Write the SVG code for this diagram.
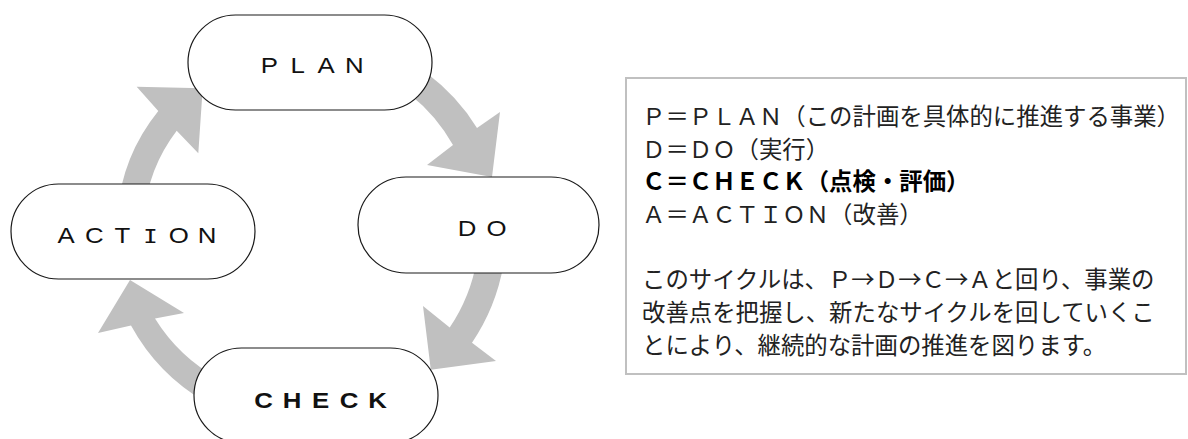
<svg xmlns="http://www.w3.org/2000/svg" width="1188" height="439" viewBox="0 0 1188 439">
<style>
.node rect{fill:#fff;stroke:#1a1a1a;stroke-width:1.2}
.node text{font-family:"Liberation Sans","Noto Sans",sans-serif;font-size:21.5px;fill:#111}
.arrow{fill:#c0c0c0;stroke:none}
.desc{font-family:"Noto Sans CJK JP","Noto Sans",sans-serif;font-size:23.4px;fill:#222}
.bold{font-weight:bold;fill:#000}
</style>
<rect width="1188" height="439" fill="#fff"/>
<g id="connectors">
<path id="plan-do" class="arrow" d="M427.2,73.6 A198.5,198.5 0 0 1 477,128 L500,112 L492,177 L427,165 L453,145 A171.5,171.5 0 0 0 410.6,94.9 Z"/>
<path id="do-check" class="arrow" d="M503.4,265 A201.5,201.5 0 0 1 472,342.7 L496,361 L430.8,369.7 L423,306 L449.7,327.6 A174.5,174.5 0 0 0 476.8,260.3 Z"/>
<path id="check-action" class="arrow" d="M205.5,402 A199,199 0 0 1 131,325.5 L98,333 L130,280 L184,313 L155,318.5 A172,172 0 0 0 219,379 Z"/>
<path id="action-plan" class="arrow" d="M117.2,213.6 A188.5,188.5 0 0 1 158.3,111 L136.7,86.7 L202.7,88.3 L198.3,153.3 L176.7,130.7 A161.5,161.5 0 0 0 144.1,215.9 Z"/>
</g>
<g id="node-plan" class="node"><rect x="188" y="15" width="244" height="95" rx="47.5"/><text transform="scale(1.2,1)" text-anchor="middle" x="224.5 248.1 271.75 295.3" y="73">PLAN</text></g>
<g id="node-do" class="node"><rect x="358" y="177" width="241" height="96" rx="48"/><text transform="scale(1.2,1)" text-anchor="middle" x="389.2 413.75" y="236">DO</text></g>
<g id="node-action" class="node"><rect x="11" y="184" width="244" height="95" rx="47.5"/><text transform="scale(1.2,1)" text-anchor="middle" y="243"><tspan x="55">A</tspan><tspan x="78.5">C</tspan><tspan x="102">T</tspan><tspan x="125.5" font-family="DejaVu Sans Mono" font-size="20">I</tspan><tspan x="149">O</tspan><tspan x="172.5">N</tspan></text></g>
<g id="node-check" class="node"><rect x="194" y="348" width="244" height="95" rx="47.5"/><text transform="scale(1.2,1)" text-anchor="middle" x="219.6 243.3 267.1 290.8 314.6" y="408" font-weight="bold">CHECK</text></g>
<g id="legend">
<rect x="626" y="78" width="560" height="296" fill="#fff" stroke="#c0c0c0" stroke-width="2"/>
<text class="desc" x="642" y="125">Ｐ＝ＰＬＡＮ（この計画を具体的に推進する事業）</text>
<text class="desc" x="642" y="157.7">Ｄ＝ＤＯ（実行）</text>
<text class="desc bold" x="642" y="190.4">Ｃ＝ＣＨＥＣＫ（点検・評価）</text>
<text class="desc" x="642" y="223">Ａ＝ＡＣＴＩＯＮ（改善）</text>
<text class="desc" x="642" y="288.4">このサイクルは、Ｐ→Ｄ→Ｃ→Ａと回り、事業の</text>
<text class="desc" x="642" y="321">改善点を把握し、新たなサイクルを回していくこ</text>
<text class="desc" x="642" y="353.7">とにより、継続的な計画の推進を図ります。</text>
</g>
</svg>
